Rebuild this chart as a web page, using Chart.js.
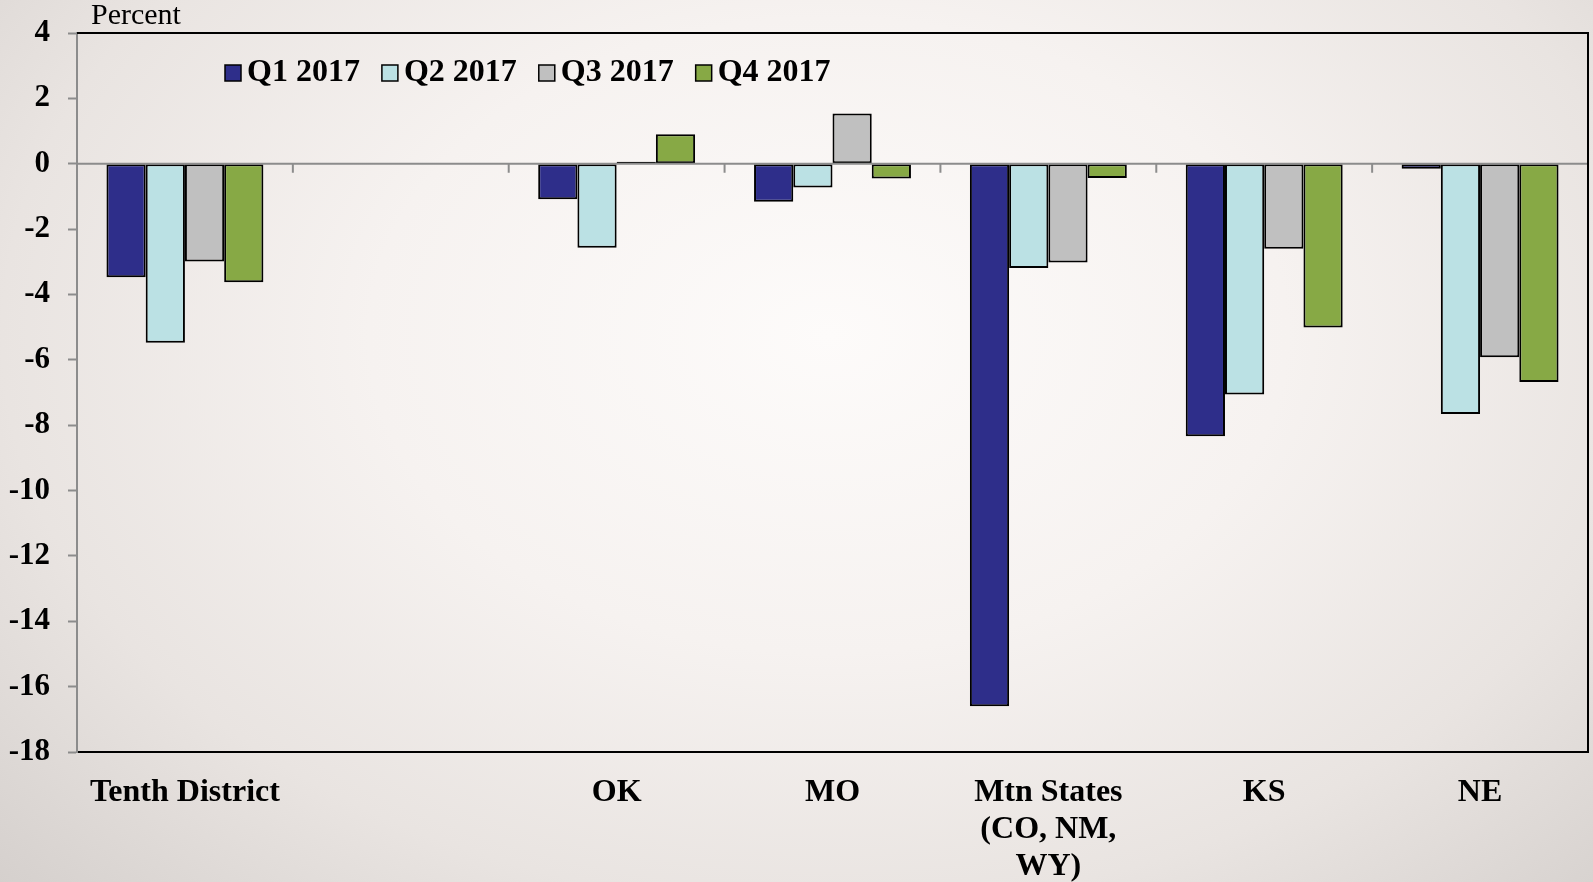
<!DOCTYPE html>
<html>
<head>
<meta charset="utf-8">
<script src="https://cdn.jsdelivr.net/npm/chart.js@4"></script>
<style>
html,body{margin:0;padding:0;width:1593px;height:882px;overflow:hidden;}
body{background: radial-gradient(ellipse 72% 90% at 52% 38%, #fdfbfa 0%, #f6f2f0 40%, #e9e4e1 72%, #d5d0cd 100%);}
canvas{display:block;}
</style>
</head>
<body>
<canvas id="c" width="1593" height="882"></canvas>
<script>
const categories = ['Tenth District', '', 'OK', 'MO', ['Mtn States', '(CO, NM,', 'WY)'], 'KS', 'NE'];
const seriesNames = ['Q1 2017', 'Q2 2017', 'Q3 2017', 'Q4 2017'];
const q1 = [-3.47, null, -1.09, -1.16, -16.60, -8.34, -0.15];
const q2 = [-5.48, null, -2.57, -0.73, -3.19, -7.06, -7.66];
const q3 = [-2.99, null, 0.06, 1.54, -3.02, -2.60, -5.92];
const q4 = [-3.63, null, 0.90, -0.45, -0.44, -5.01, -6.68];
const seriesColors = ['#2E2E8A', '#BBE1E4', '#C0C0C0', '#87A945'];
const yMin = -18, yMax = 4, yStep = 2;
const yTitle = 'Percent';

const serif = "'Liberation Serif', 'Times New Roman', serif";

const framePlugin = {
  id: 'frame',
  afterDatasetsDraw(chart) {
    const {ctx, chartArea: a, scales: {x, y}} = chart;
    const y0 = y.getPixelForValue(0);
    ctx.save();
    ctx.strokeStyle = '#8c8c8c';
    ctx.lineWidth = 2;
    ctx.beginPath();
    ctx.moveTo(a.left, y0);
    ctx.lineTo(a.right, y0);
    const n = categories.length;
    for (let i = 0; i <= n; i++) {
      const px = a.left + (a.right - a.left) * i / n;
      ctx.moveTo(px, y0);
      ctx.lineTo(px, y0 + 9);
    }
    ctx.stroke();
    ctx.strokeStyle = '#000';
    ctx.lineWidth = 2;
    ctx.beginPath();
    ctx.moveTo(a.left, a.top);
    ctx.lineTo(a.right, a.top);
    ctx.lineTo(a.right, a.bottom);
    ctx.stroke();
    ctx.fillStyle = '#000';
    ctx.font = "30px " + serif;
    ctx.textAlign = 'left';
    ctx.textBaseline = 'alphabetic';
    ctx.fillText(yTitle, a.left + 14, 24);
    ctx.font = "bold 32px " + serif;
    ctx.textBaseline = 'middle';
    let lx = a.left + 148;
    const ly = 73;
    chart.data.datasets.forEach(ds => {
      ctx.fillStyle = ds.backgroundColor;
      ctx.fillRect(lx, ly - 8, 16, 16);
      ctx.strokeStyle = '#000';
      ctx.lineWidth = 1.5;
      ctx.strokeRect(lx, ly - 8, 16, 16);
      ctx.fillStyle = '#000';
      ctx.fillText(ds.label, lx + 22, ly);
      lx += 22 + ctx.measureText(ds.label).width + 22;
    });
    ctx.restore();
  }
};

const seriesData = [q1, q2, q3, q4];
new Chart(document.getElementById('c'), {
  type: 'bar',
  data: {
    labels: categories,
    datasets: seriesData.map((d, i) => ({
      label: seriesNames[i],
      data: d,
      backgroundColor: seriesColors[i],
      borderColor: '#000',
      borderWidth: 2,
      borderSkipped: false,
      barPercentage: 1.0,
      categoryPercentage: 0.727
    }))
  },
  options: {
    responsive: false,
    animation: false,
    devicePixelRatio: 1,
    layout: {padding: {top: 33, right: 5, left: 0, bottom: 0}},
    plugins: {legend: {display: false}, tooltip: {enabled: false}, title: {display: false}},
    scales: {
      x: {
        afterFit(scale) { scale.height = 130; },
        grid: {display: false},
        border: {display: true, color: '#000', width: 2},
        ticks: {
          color: '#000',
          font: {family: serif, size: 32, weight: 'bold', lineHeight: 1.16},
          padding: 14,
          maxRotation: 0,
          autoSkip: false
        }
      },
      y: {
        min: yMin,
        max: yMax,
        afterFit(scale) { scale.width = 77; },
        ticks: {
          stepSize: yStep,
          color: '#000',
          font: {family: serif, size: 31, weight: 'bold', lineHeight: 0.9},
          padding: 18
        },
        grid: {drawOnChartArea: false, drawTicks: true, tickLength: 9, tickColor: '#8c8c8c', tickWidth: 2},
        border: {display: true, color: '#8c8c8c', width: 2}
      }
    }
  },
  plugins: [framePlugin]
});
</script>
</body>
</html>
